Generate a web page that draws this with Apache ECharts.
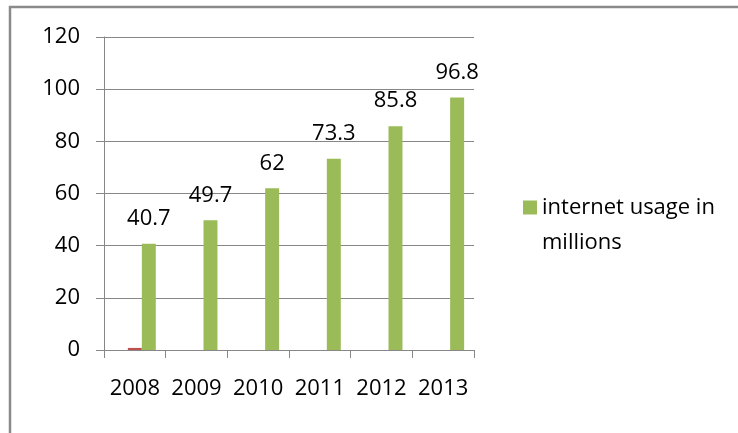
<!DOCTYPE html>
<html>
<head>
<meta charset="utf-8">
<script src="https://cdn.jsdelivr.net/npm/echarts@6/dist/echarts.min.js"></script>
<style>
html,body{margin:0;padding:0;background:#fff;}
#c{width:738px;height:433px;}
</style>
</head>
<body>
<div id="c"></div>
<script>
const categories = ['2008', '2009', '2010', '2011', '2012', '2013'];
const seriesBlank = ['-', '-', '-', '-', '-', '-'];
const seriesRed = [0.8, '-', '-', '-', '-', '-'];
const internetUsage = [40.7, 49.7, 62, 73.3, 85.8, 96.8];
const yTicks = { min: 0, max: 120, interval: 20 };

const FONT = 'Open Sans';
const chart = echarts.init(document.getElementById('c'), null, { renderer: 'canvas' });
chart.setOption({
  animation: false,
  backgroundColor: '#fff',
  textStyle: { fontFamily: FONT },
  graphic: [{
    type: 'rect',
    shape: { x: 10, y: 7, width: 800, height: 500 },
    style: { fill: 'none', stroke: '#8a8a8a', lineWidth: 2.5 },
    silent: true, z: -1
  }],
  grid: { left: 104, top: 37, right: 264, bottom: 83, containLabel: false },
  legend: {
    data: ['internet usage in millions'],
    left: 518, top: 150,
    orient: 'vertical',
    itemWidth: 14, itemHeight: 14, itemGap: 9,
    icon: 'rect',
    formatter: () => ' \ninternet usage in\nmillions',
    textStyle: { fontFamily: FONT, fontSize: 22, color: '#000', lineHeight: 35 }
  },
  xAxis: {
    type: 'category',
    data: categories,
    boundaryGap: true,
    axisLine: { show: true, lineStyle: { color: '#878787', width: 1 } },
    axisTick: { show: true, length: 8, inside: false, lineStyle: { color: '#878787' } },
    axisLabel: { fontFamily: FONT, fontSize: 22, color: '#000', margin: 28, interval: 0, hideOverlap: false },
    splitLine: { show: false }
  },
  yAxis: {
    type: 'value',
    min: yTicks.min, max: yTicks.max, interval: yTicks.interval,
    axisLine: { show: true, lineStyle: { color: '#878787', width: 1 } },
    axisTick: { show: true, length: 8, inside: false, lineStyle: { color: '#878787' } },
    axisLabel: { fontFamily: FONT, fontSize: 22, color: '#000', margin: 24 },
    splitLine: { show: true, lineStyle: { color: '#878787', width: 1 } }
  },
  series: [
    { name: 'blank', type: 'bar', data: seriesBlank, barGap: '0%', barCategoryGap: '32%', itemStyle: { color: '#4F81BD' } },
    { name: 'other', type: 'bar', data: seriesRed, barGap: '0%', barCategoryGap: '32%', itemStyle: { color: '#C0504D' } },
    {
      name: 'internet usage in millions', type: 'bar', data: internetUsage,
      barGap: '0%', barCategoryGap: '32%',
      itemStyle: { color: '#9BBB59' },
      label: { show: true, position: 'top', distance: 14, fontFamily: FONT, fontSize: 22, color: '#000' }
    }
  ]
});
</script>
</body>
</html>
